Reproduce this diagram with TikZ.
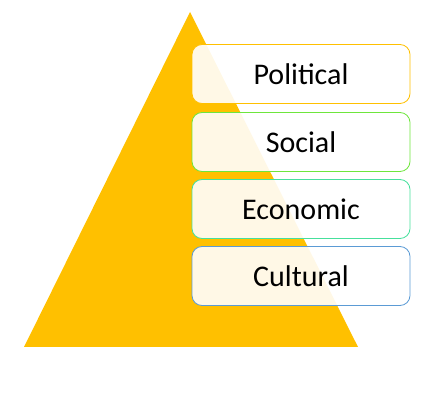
\documentclass[tikz,border=0pt]{standalone}
\usepackage{fontspec}
\setmainfont{Carlito}
\usepackage{xcolor}
\usepackage{tikz}
\usetikzlibrary{positioning}
\definecolor{gold}{HTML}{FFC000}
\definecolor{lgreen}{HTML}{6EE63C}
\definecolor{teal}{HTML}{46E09C}
\definecolor{lblue}{HTML}{5B9BD5}

\begin{document}
\begin{tikzpicture}[x=1pt,y=1pt,semithick]
    \tikzstyle{every level}=[shape=rectangle, rounded corners=10pt, minimum width=218pt, minimum height=59pt, fill=white, fill opacity=0.9, text opacity=1, line width=0.8pt, font=\fontsize{30}{32}\selectfont]
    \useasboundingbox (0,0) rectangle (443,414);
    \coordinate (top) at (190, 402);
    \coordinate (bl) at (24, 67);
    \coordinate (br) at (358, 67);
    \fill[gold] (top) -- (br) -- (bl) -- cycle;
    \node[every level, draw=gold] (pol) at (301, 340){Political};
    \node[every level, draw=lgreen] (soc) at (301, 272){Social};
    \node[every level, draw=teal] (eco) at (301, 205){Economic};
    \node[every level, draw=lblue] (cul) at (301, 138){Cultural};
\end{tikzpicture}
\end{document}
